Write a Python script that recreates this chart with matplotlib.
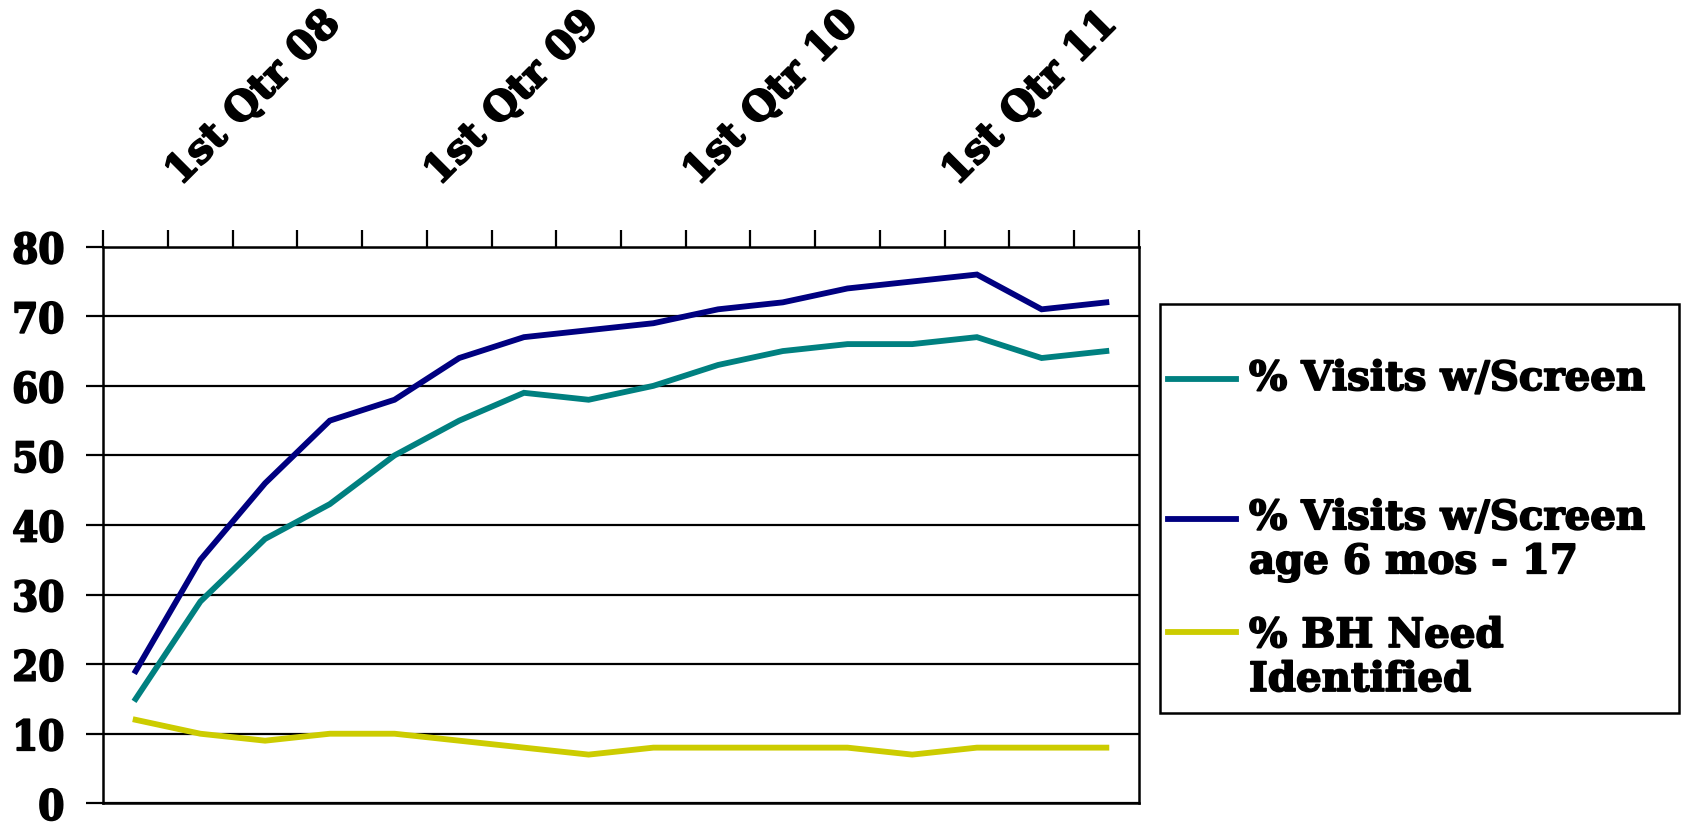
import matplotlib
matplotlib.use("Agg")
import matplotlib.pyplot as plt
import matplotlib.transforms as mtransforms
import matplotlib.patheffects as pe
from matplotlib.patches import Rectangle
from matplotlib.lines import Line2D

# ---- data ----
n_periods = 16
quarter_labels = ["1st Qtr 08", "1st Qtr 09", "1st Qtr 10", "1st Qtr 11"]
label_positions = [1, 5, 9, 13]
series_names = ["% Visits w/Screen",
                "% Visits w/Screen\nage 6 mos - 17",
                "% BH Need\nIdentified"]
visits_screen = [15, 29, 38, 43, 50, 55, 59, 58, 60, 63, 65, 66, 66, 67, 64, 65]
visits_screen_6_17 = [19, 35, 46, 55, 58, 64, 67, 68, 69, 71, 72, 74, 75, 76, 71, 72]
bh_need = [12, 10, 9, 10, 10, 9, 8, 7, 8, 8, 8, 8, 7, 8, 8, 8]
series_values = [visits_screen, visits_screen_6_17, bh_need]
series_colors = ["#008080", "#000080", "#cccc00"]
y_ticks = [0, 10, 20, 30, 40, 50, 60, 70, 80]

W, H = 1688, 824
FONT = {"family": "DejaVu Serif", "weight": "bold"}
HEAVY = [pe.withStroke(linewidth=1.3, foreground="black")]

def fx(x):
    return x / W

def fy(y):
    return 1 - y / H

fig = plt.figure(figsize=(W / 100, H / 100), dpi=100)
left, right, top, bottom = 103.3, 1138.7, 246.7, 803.3
ax = fig.add_axes([fx(left), fy(bottom), (right - left) / W, (bottom - top) / H])

x = list(range(n_periods))
for vals, col in zip(series_values, series_colors):
    ax.plot(x, vals, color=col, lw=4.2, solid_joinstyle="miter", zorder=3)

ax.set_xlim(-0.5, n_periods - 0.5)
ax.set_ylim(0, 80)

# y axis
ax.set_yticks(y_ticks)
ax.set_yticklabels([str(v) for v in y_ticks], fontsize=30, fontstretch="condensed", **FONT)
for t in ax.get_yticklabels():
    t.set_path_effects(HEAVY)
ax.tick_params(axis="y", length=12, width=1.6, pad=16, direction="out")
ax.grid(axis="y", color="black", lw=1.6, zorder=1)

# x axis on top, tick marks at category boundaries
ax.xaxis.tick_top()
ax.set_xticks([])
ax.set_xticks([i - 0.5 for i in range(n_periods + 1)], minor=True)
ax.tick_params(axis="x", which="minor", length=12, width=1.6, direction="out",
               top=True, bottom=False)
for sp in ax.spines.values():
    sp.set_linewidth(1.8)
    sp.set_color("black")

offset = mtransforms.ScaledTranslation(-20 / 100, 60 / 100, fig.dpi_scale_trans)
trans = mtransforms.blended_transform_factory(ax.transData, ax.transAxes) + offset
for pos, lab in zip(label_positions, quarter_labels):
    ax.text(pos, 1, lab, transform=trans, rotation=45, rotation_mode="anchor",
            ha="left", va="baseline", fontsize=29, path_effects=HEAVY, **FONT)

# legend (drawn in figure coordinates)
fig.add_artist(Rectangle((fx(1160), fy(713)), (1679 - 1160) / W, (713 - 304) / H,
                         transform=fig.transFigure, facecolor="white",
                         edgecolor="black", lw=1.8))
handle_y = [379, 519, 632]
text_y = [379, 540.5, 658]
for name, col, hy, ty in zip(series_names, series_colors, handle_y, text_y):
    fig.add_artist(Line2D([fx(1168), fx(1236)], [fy(hy), fy(hy)], color=col,
                          lw=4.2, transform=fig.transFigure))
    fig.text(fx(1249), fy(ty), name, ha="left", va="center", fontsize=29,
             linespacing=1.2, path_effects=HEAVY, **FONT)

fig.savefig("out.png", dpi=100)
